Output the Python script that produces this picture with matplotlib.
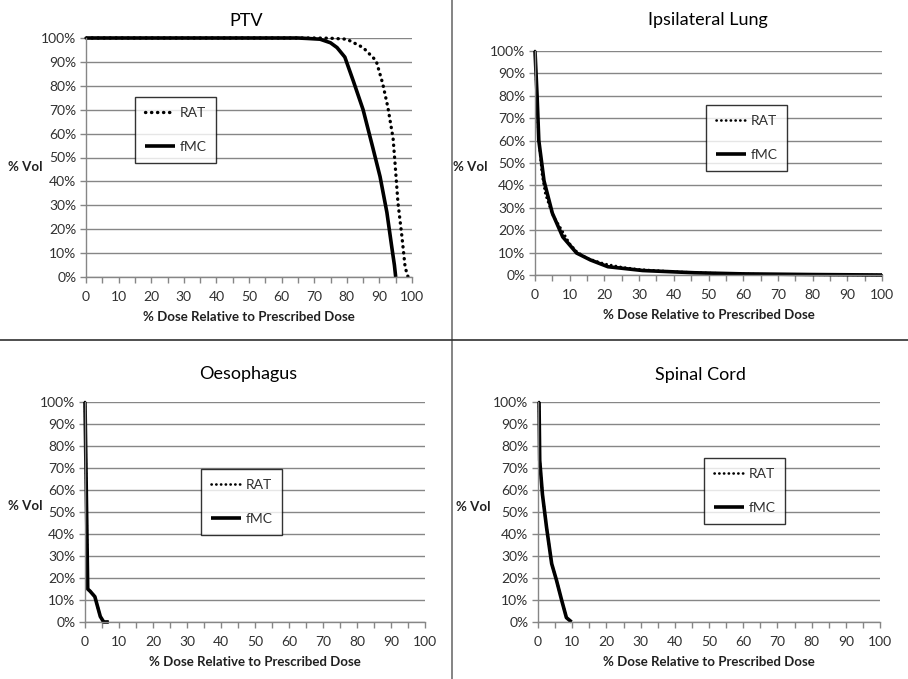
import numpy as np
import matplotlib
matplotlib.use("Agg")
import matplotlib.pyplot as plt
from matplotlib.lines import Line2D
from matplotlib.ticker import FuncFormatter, MultipleLocator

# --- data (dose %, volume %) ---
ptv_fmc_dose = [0, 60, 65, 68, 71.8, 75, 77, 79.4, 82, 85, 88, 90.2, 92.3, 93.8, 94.6, 95]
ptv_fmc_vol = [100, 100, 100, 99.8, 99.5, 98, 96, 92, 82, 70, 54, 42, 27, 12.5, 5, 0]
ptv_rat_dose = [0, 70, 75, 80, 85, 89, 91, 92.6, 94.2, 94.8, 95.7, 96.9, 97.9, 98.8]
ptv_rat_vol = [100, 100, 99.9, 99.5, 96, 90.5, 81, 71, 58, 47.5, 31, 17, 4, 0]

lung_fmc_dose = [0, 0.6, 1.1, 2.6, 5, 8, 12, 16, 21, 31, 46, 60, 80, 100]
lung_fmc_vol = [100, 80, 60, 42, 27.6, 17, 9.8, 6.7, 3.7, 2, 1, 0.5, 0.2, 0]
lung_rat_dose = [0, 0.5, 1, 2, 3, 5, 7, 10, 12, 15, 20, 25, 30, 40, 50, 60, 70, 80, 100]
lung_rat_vol = [100, 80, 62, 45, 36, 27, 22, 14, 10.5, 7.5, 5, 3.5, 2.5, 1.5, 0.9, 0.5, 0.2, 0.1, 0]

oes_fmc_dose = [0, 0.8, 1.5, 2.9, 4.5, 5.5, 7]
oes_fmc_vol = [100, 15, 14, 11.5, 2.5, 0, 0]
oes_rat_dose = [0, 0.8, 1.5, 2.9, 4.5, 5.5, 7]
oes_rat_vol = [100, 15, 14, 11.5, 2.5, 0, 0]

cord_fmc_dose = [0.3, 0.5, 1.3, 2.5, 4, 5.4, 6.9, 8.3, 9.8]
cord_fmc_vol = [100, 73.5, 58, 43, 26.5, 19, 10, 2, 0]
cord_rat_dose = [0.3, 0.5, 1.3, 2.5, 4, 5.4, 6.9, 8.3, 9.8]
cord_rat_vol = [100, 73.5, 58, 43, 26.5, 19, 10, 2, 0]

titles = ["PTV", "Ipsilateral Lung", "Oesophagus", "Spinal Cord"]

plt.rcParams['font.family'] = ['Lato', 'DejaVu Sans']

W, H = 908, 679
fig = plt.figure(figsize=(W / 100, H / 100), dpi=100)
fig.patch.set_facecolor('white')


def add_ax(l, t, r, b):
    return fig.add_axes([l / W, 1 - b / H, (r - l) / W, (b - t) / H])


def fx(x):
    return x / W


def fy(y):
    return 1 - y / H


grey = '#868686'
pct = FuncFormatter(lambda v, p: f'{v:.0f}%')


def setup(ax):
    ax.set_xlim(0, 100)
    ax.set_ylim(0, 100)
    ax.yaxis.set_major_locator(MultipleLocator(10))
    ax.yaxis.set_major_formatter(pct)
    ax.xaxis.set_major_locator(MultipleLocator(10))
    ax.xaxis.set_minor_locator(MultipleLocator(5))
    ax.grid(axis='y', color=grey, linewidth=1)
    ax.set_axisbelow(True)
    for s in ['top', 'right']:
        ax.spines[s].set_visible(False)
    for s in ['left', 'bottom']:
        ax.spines[s].set_color(grey)
        ax.spines[s].set_linewidth(1)
    ax.tick_params(axis='both', which='both', direction='out', color=grey,
                   length=4, width=1, labelsize=10, labelcolor='#303030')
    ax.tick_params(axis='x', which='both', pad=6)
    ax.tick_params(axis='y', pad=3)
    ax.set_xlabel('% Dose Relative to Prescribed Dose', fontsize=9.5,
                  fontweight='bold', color='#202020', labelpad=6)


fmc_style = dict(color='black', linewidth=2.6, clip_on=False,
                 solid_joinstyle='round', solid_capstyle='butt')

axes = [add_ax(86, 38, 412, 277), add_ax(535, 51, 882, 275),
        add_ax(85, 402, 425, 622), add_ax(538, 402, 880, 622)]
series = [(ptv_rat_dose, ptv_rat_vol, ptv_fmc_dose, ptv_fmc_vol),
          (lung_rat_dose, lung_rat_vol, lung_fmc_dose, lung_fmc_vol),
          (oes_rat_dose, oes_rat_vol, oes_fmc_dose, oes_fmc_vol),
          (cord_rat_dose, cord_rat_vol, cord_fmc_dose, cord_fmc_vol)]
dot_width = [2.4, 1.9, 1.9, 1.9]
legend_pos = [(135, 97), (706, 105), (201, 469), (704, 458)]
title_pos = [(246, 21), (708, 20), (248, 374), (700, 375)]
vol_pos = [(25, 167), (470, 167), (25, 506), (473, 507)]

for ax, (rd, rv, fd, fv), dw, lp, tp, vp, t in zip(axes, series, dot_width,
                                                   legend_pos, title_pos,
                                                   vol_pos, titles):
    setup(ax)
    ax.plot(rd, rv, label='RAT', color='black', linewidth=dw,
            linestyle=(0, (0.1, 1.7)), dash_capstyle='round', clip_on=False)
    ax.plot(fd, fv, label='fMC', **fmc_style)
    leg = ax.legend(loc='upper left', bbox_to_anchor=(fx(lp[0]), fy(lp[1])),
                    bbox_transform=fig.transFigure, borderaxespad=0,
                    fontsize=10, frameon=True, fancybox=False,
                    edgecolor='black', handlelength=2.2, handletextpad=0.3,
                    labelspacing=1.6, borderpad=0.7)
    leg.get_frame().set_linewidth(1)
    for txt in leg.get_texts():
        txt.set_color('#303030')
    fig.text(fx(tp[0]), fy(tp[1]), t, fontsize=13, ha='center', va='center',
             color='black')
    fig.text(fx(vp[0]), fy(vp[1]), '% Vol', fontsize=9.5, fontweight='bold',
             ha='center', va='center', color='#202020')

# quadrant dividers
fig.add_artist(Line2D([fx(452), fx(452)], [0, 1], color='#707070', linewidth=1.2))
fig.add_artist(Line2D([0, 1], [fy(340), fy(340)], color='#303030', linewidth=1.2))

fig.savefig('out.png', dpi=100, facecolor='white')
